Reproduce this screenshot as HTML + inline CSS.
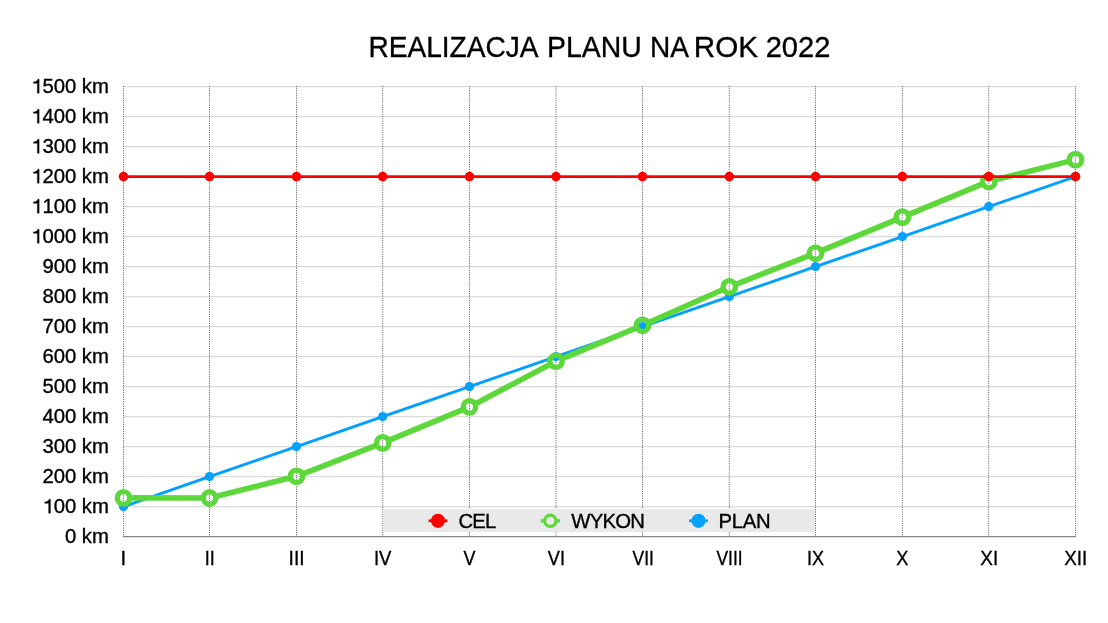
<!DOCTYPE html>
<html><head><meta charset="utf-8"><title>Realizacja planu</title>
<style>
html,body{margin:0;padding:0;background:#fff;width:1108px;height:623px;overflow:hidden}
svg{display:block;will-change:transform}
text{font-family:"Liberation Sans", sans-serif;fill:#000;stroke:#000;stroke-width:0.35px}
</style></head><body>
<svg width="1108" height="623" viewBox="0 0 1108 623">
<rect width="1108" height="623" fill="#fff"/>
<text x="368.40" y="57.4" font-size="30" textLength="170.16" lengthAdjust="spacingAndGlyphs">REALIZACJA</text>
<text x="547.07" y="57.4" font-size="30" textLength="94.72" lengthAdjust="spacingAndGlyphs">PLANU</text>
<text x="650.00" y="57.4" font-size="30" textLength="38.96" lengthAdjust="spacingAndGlyphs">NA</text>
<text x="693.87" y="57.4" font-size="30" textLength="64.27" lengthAdjust="spacingAndGlyphs">ROK</text>
<text x="765.64" y="57.4" font-size="30" textLength="64.73" lengthAdjust="spacingAndGlyphs">2022</text>
<line x1="123" y1="506.6" x2="1076" y2="506.6" stroke="#dadada" stroke-width="1.1"/>
<line x1="123" y1="476.6" x2="1076" y2="476.6" stroke="#dadada" stroke-width="1.1"/>
<line x1="123" y1="446.6" x2="1076" y2="446.6" stroke="#dadada" stroke-width="1.1"/>
<line x1="123" y1="416.6" x2="1076" y2="416.6" stroke="#dadada" stroke-width="1.1"/>
<line x1="123" y1="386.6" x2="1076" y2="386.6" stroke="#dadada" stroke-width="1.1"/>
<line x1="123" y1="356.6" x2="1076" y2="356.6" stroke="#dadada" stroke-width="1.1"/>
<line x1="123" y1="326.6" x2="1076" y2="326.6" stroke="#dadada" stroke-width="1.1"/>
<line x1="123" y1="296.6" x2="1076" y2="296.6" stroke="#dadada" stroke-width="1.1"/>
<line x1="123" y1="266.6" x2="1076" y2="266.6" stroke="#dadada" stroke-width="1.1"/>
<line x1="123" y1="236.6" x2="1076" y2="236.6" stroke="#dadada" stroke-width="1.1"/>
<line x1="123" y1="206.6" x2="1076" y2="206.6" stroke="#dadada" stroke-width="1.1"/>
<line x1="123" y1="176.6" x2="1076" y2="176.6" stroke="#dadada" stroke-width="1.1"/>
<line x1="123" y1="146.6" x2="1076" y2="146.6" stroke="#dadada" stroke-width="1.1"/>
<line x1="123" y1="116.6" x2="1076" y2="116.6" stroke="#dadada" stroke-width="1.1"/>
<line x1="123" y1="86.6" x2="1076" y2="86.6" stroke="#dadada" stroke-width="1.1"/>
<text x="108.9" y="543.2" font-size="20.3" text-anchor="end">0 km</text>
<text x="108.9" y="513.2" font-size="20.3" text-anchor="end"><tspan style="fill:none;stroke:none">1</tspan>00 km</text><path d="M48.64,513.20 L50.43,513.20 L50.43,499.15 L49.13,499.15 C48.72,500.41 47.41,501.73 44.73,501.91 L44.73,503.33 L48.64,503.33 Z" fill="#000" stroke="#000" stroke-width="0.35"/>
<text x="108.9" y="483.2" font-size="20.3" text-anchor="end">200 km</text>
<text x="108.9" y="453.2" font-size="20.3" text-anchor="end">300 km</text>
<text x="108.9" y="423.2" font-size="20.3" text-anchor="end">400 km</text>
<text x="108.9" y="393.2" font-size="20.3" text-anchor="end">500 km</text>
<text x="108.9" y="363.2" font-size="20.3" text-anchor="end">600 km</text>
<text x="108.9" y="333.2" font-size="20.3" text-anchor="end">700 km</text>
<text x="108.9" y="303.2" font-size="20.3" text-anchor="end">800 km</text>
<text x="108.9" y="273.2" font-size="20.3" text-anchor="end">900 km</text>
<text x="108.9" y="243.2" font-size="20.3" text-anchor="end"><tspan style="fill:none;stroke:none">1</tspan>000 km</text><path d="M37.35,243.20 L39.14,243.20 L39.14,229.15 L37.84,229.15 C37.43,230.41 36.12,231.73 33.44,231.91 L33.44,233.33 L37.35,233.33 Z" fill="#000" stroke="#000" stroke-width="0.35"/>
<text x="108.9" y="213.2" font-size="20.3" text-anchor="end"><tspan style="fill:none;stroke:none">1</tspan>100 km</text><path d="M37.35,213.20 L39.14,213.20 L39.14,199.15 L37.84,199.15 C37.43,200.41 36.12,201.73 33.44,201.91 L33.44,203.33 L37.35,203.33 Z" fill="#000" stroke="#000" stroke-width="0.35"/>
<text x="108.9" y="183.2" font-size="20.3" text-anchor="end"><tspan style="fill:none;stroke:none">1</tspan>200 km</text><path d="M37.35,183.20 L39.14,183.20 L39.14,169.15 L37.84,169.15 C37.43,170.41 36.12,171.73 33.44,171.91 L33.44,173.33 L37.35,173.33 Z" fill="#000" stroke="#000" stroke-width="0.35"/>
<text x="108.9" y="153.2" font-size="20.3" text-anchor="end"><tspan style="fill:none;stroke:none">1</tspan>300 km</text><path d="M37.35,153.20 L39.14,153.20 L39.14,139.15 L37.84,139.15 C37.43,140.41 36.12,141.73 33.44,141.91 L33.44,143.33 L37.35,143.33 Z" fill="#000" stroke="#000" stroke-width="0.35"/>
<text x="108.9" y="123.2" font-size="20.3" text-anchor="end"><tspan style="fill:none;stroke:none">1</tspan>400 km</text><path d="M37.35,123.20 L39.14,123.20 L39.14,109.15 L37.84,109.15 C37.43,110.41 36.12,111.73 33.44,111.91 L33.44,113.33 L37.35,113.33 Z" fill="#000" stroke="#000" stroke-width="0.35"/>
<text x="108.9" y="93.2" font-size="20.3" text-anchor="end"><tspan style="fill:none;stroke:none">1</tspan>500 km</text><path d="M37.35,93.20 L39.14,93.20 L39.14,79.15 L37.84,79.15 C37.43,80.41 36.12,81.73 33.44,81.91 L33.44,83.33 L37.35,83.33 Z" fill="#000" stroke="#000" stroke-width="0.35"/>
<line x1="123.50" y1="86" x2="123.50" y2="536" stroke="#646464" stroke-width="1" stroke-dasharray="1.1 1.2"/>
<line x1="209.50" y1="86" x2="209.50" y2="536" stroke="#646464" stroke-width="1" stroke-dasharray="1.1 1.2"/>
<line x1="296.50" y1="86" x2="296.50" y2="536" stroke="#646464" stroke-width="1" stroke-dasharray="1.1 1.2"/>
<line x1="382.70" y1="86" x2="382.70" y2="536" stroke="#646464" stroke-width="1" stroke-dasharray="1.1 1.2"/>
<line x1="469.50" y1="86" x2="469.50" y2="536" stroke="#646464" stroke-width="1" stroke-dasharray="1.1 1.2"/>
<line x1="556.00" y1="86" x2="556.00" y2="536" stroke="#646464" stroke-width="1" stroke-dasharray="1.1 1.2"/>
<line x1="642.50" y1="86" x2="642.50" y2="536" stroke="#646464" stroke-width="1" stroke-dasharray="1.1 1.2"/>
<line x1="729.30" y1="86" x2="729.30" y2="536" stroke="#646464" stroke-width="1" stroke-dasharray="1.1 1.2"/>
<line x1="815.50" y1="86" x2="815.50" y2="536" stroke="#646464" stroke-width="1" stroke-dasharray="1.1 1.2"/>
<line x1="902.40" y1="86" x2="902.40" y2="536" stroke="#646464" stroke-width="1" stroke-dasharray="1.1 1.2"/>
<line x1="988.70" y1="86" x2="988.70" y2="536" stroke="#646464" stroke-width="1" stroke-dasharray="1.1 1.2"/>
<line x1="1075.50" y1="86" x2="1075.50" y2="536" stroke="#646464" stroke-width="1" stroke-dasharray="1.1 1.2"/>
<line x1="123" y1="536.6" x2="1076" y2="536.6" stroke="#858585" stroke-width="1.2"/>
<text x="123.30" y="565.2" font-size="20.3" text-anchor="middle">I</text>
<text x="209.75" y="565.2" font-size="20.3" text-anchor="middle" textLength="10.03" lengthAdjust="spacingAndGlyphs">II</text>
<text x="296.60" y="565.2" font-size="20.3" text-anchor="middle" textLength="16.06" lengthAdjust="spacingAndGlyphs">III</text>
<text x="382.69" y="565.2" font-size="20.3" text-anchor="middle" textLength="17.49" lengthAdjust="spacingAndGlyphs">IV</text>
<text x="469.50" y="565.2" font-size="20.3" text-anchor="middle" textLength="11.96" lengthAdjust="spacingAndGlyphs">V</text>
<text x="556.40" y="565.2" font-size="20.3" text-anchor="middle" textLength="17.16" lengthAdjust="spacingAndGlyphs">VI</text>
<text x="643.26" y="565.2" font-size="20.3" text-anchor="middle" textLength="21.28" lengthAdjust="spacingAndGlyphs">VII</text>
<text x="729.56" y="565.2" font-size="20.3" text-anchor="middle" textLength="26.08" lengthAdjust="spacingAndGlyphs">VIII</text>
<text x="815.46" y="565.2" font-size="20.3" text-anchor="middle" textLength="17.04" lengthAdjust="spacingAndGlyphs">IX</text>
<text x="902.34" y="565.2" font-size="20.3" text-anchor="middle" textLength="12.09" lengthAdjust="spacingAndGlyphs">X</text>
<text x="989.21" y="565.2" font-size="20.3" text-anchor="middle" textLength="17.87" lengthAdjust="spacingAndGlyphs">XI</text>
<text x="1075.76" y="565.2" font-size="20.3" text-anchor="middle" textLength="22.95" lengthAdjust="spacingAndGlyphs">XII</text>
<rect x="383.5" y="509" width="431.5" height="23" fill="#e9e9e9"/>
<polyline points="123.50,506.60 209.50,476.60 296.50,446.60 382.70,416.60 469.50,386.60 556.00,356.60 642.50,326.60 729.30,296.60 815.50,266.60 902.40,236.60 988.70,206.60 1075.50,176.60" fill="none" stroke="#02a0ff" stroke-width="2.9" stroke-linejoin="round"/>
<circle cx="123.50" cy="506.60" r="4.6" fill="#02a0ff"/>
<circle cx="209.50" cy="476.60" r="4.6" fill="#02a0ff"/>
<circle cx="296.50" cy="446.60" r="4.6" fill="#02a0ff"/>
<circle cx="382.70" cy="416.60" r="4.6" fill="#02a0ff"/>
<circle cx="469.50" cy="386.60" r="4.6" fill="#02a0ff"/>
<circle cx="556.00" cy="356.60" r="4.6" fill="#02a0ff"/>
<circle cx="642.50" cy="326.60" r="4.6" fill="#02a0ff"/>
<circle cx="729.30" cy="296.60" r="4.6" fill="#02a0ff"/>
<circle cx="815.50" cy="266.60" r="4.6" fill="#02a0ff"/>
<circle cx="902.40" cy="236.60" r="4.6" fill="#02a0ff"/>
<circle cx="988.70" cy="206.60" r="4.6" fill="#02a0ff"/>
<circle cx="1075.50" cy="176.60" r="4.6" fill="#02a0ff"/>
<mask id="wm" maskUnits="userSpaceOnUse" x="0" y="0" width="1108" height="623"><rect width="1108" height="623" fill="#fff"/><circle cx="123.50" cy="497.90" r="3.7" fill="#000"/><circle cx="209.50" cy="498.00" r="3.7" fill="#000"/><circle cx="296.50" cy="476.30" r="3.7" fill="#000"/><circle cx="382.70" cy="442.90" r="3.7" fill="#000"/><circle cx="469.50" cy="406.90" r="3.7" fill="#000"/><circle cx="556.00" cy="361.20" r="3.7" fill="#000"/><circle cx="642.50" cy="325.30" r="3.7" fill="#000"/><circle cx="729.30" cy="286.80" r="3.7" fill="#000"/><circle cx="815.50" cy="253.20" r="3.7" fill="#000"/><circle cx="902.40" cy="217.10" r="3.7" fill="#000"/><circle cx="988.70" cy="181.40" r="3.7" fill="#000"/><circle cx="1075.50" cy="159.65" r="3.7" fill="#000"/></mask>
<polyline points="123.50,497.90 209.50,498.00 296.50,476.30 382.70,442.90 469.50,406.90 556.00,361.20 642.50,325.30 729.30,286.80 815.50,253.20 902.40,217.10 988.70,181.40 1075.50,159.65" fill="none" stroke="#5dd83a" stroke-width="5.6" stroke-linejoin="round" mask="url(#wm)"/>
<circle cx="123.50" cy="497.90" r="6.25" fill="none" stroke="#5dd83a" stroke-width="5.3"/>
<circle cx="209.50" cy="498.00" r="6.25" fill="none" stroke="#5dd83a" stroke-width="5.3"/>
<circle cx="296.50" cy="476.30" r="6.25" fill="none" stroke="#5dd83a" stroke-width="5.3"/>
<circle cx="382.70" cy="442.90" r="6.25" fill="none" stroke="#5dd83a" stroke-width="5.3"/>
<circle cx="469.50" cy="406.90" r="6.25" fill="none" stroke="#5dd83a" stroke-width="5.3"/>
<circle cx="556.00" cy="361.20" r="6.25" fill="none" stroke="#5dd83a" stroke-width="5.3"/>
<circle cx="642.50" cy="325.30" r="6.25" fill="none" stroke="#5dd83a" stroke-width="5.3"/>
<circle cx="729.30" cy="286.80" r="6.25" fill="none" stroke="#5dd83a" stroke-width="5.3"/>
<circle cx="815.50" cy="253.20" r="6.25" fill="none" stroke="#5dd83a" stroke-width="5.3"/>
<circle cx="902.40" cy="217.10" r="6.25" fill="none" stroke="#5dd83a" stroke-width="5.3"/>
<circle cx="988.70" cy="181.40" r="6.25" fill="none" stroke="#5dd83a" stroke-width="5.3"/>
<circle cx="1075.50" cy="159.65" r="6.25" fill="none" stroke="#5dd83a" stroke-width="5.3"/>
<line x1="123.50" y1="176.60000000000002" x2="1075.50" y2="176.60000000000002" stroke="#ff0000" stroke-width="2.9"/>
<circle cx="123.50" cy="176.60" r="4.8" fill="#ff0000"/>
<circle cx="209.50" cy="176.60" r="4.8" fill="#ff0000"/>
<circle cx="296.50" cy="176.60" r="4.8" fill="#ff0000"/>
<circle cx="382.70" cy="176.60" r="4.8" fill="#ff0000"/>
<circle cx="469.50" cy="176.60" r="4.8" fill="#ff0000"/>
<circle cx="556.00" cy="176.60" r="4.8" fill="#ff0000"/>
<circle cx="642.50" cy="176.60" r="4.8" fill="#ff0000"/>
<circle cx="729.30" cy="176.60" r="4.8" fill="#ff0000"/>
<circle cx="815.50" cy="176.60" r="4.8" fill="#ff0000"/>
<circle cx="902.40" cy="176.60" r="4.8" fill="#ff0000"/>
<circle cx="988.70" cy="176.60" r="4.8" fill="#ff0000"/>
<circle cx="1075.50" cy="176.60" r="4.8" fill="#ff0000"/>
<line x1="428.6" y1="520.8" x2="447.4" y2="520.8" stroke="#ff0000" stroke-width="2.8"/><circle cx="438.0" cy="520.8" r="7.1" fill="#ff0000"/>
<text x="458.57" y="528.0" font-size="20.3" textLength="37.6" lengthAdjust="spacing">CEL</text>
<line x1="540.7" y1="520.8" x2="559.9" y2="520.8" stroke="#5dd83a" stroke-width="3.3"/><circle cx="550.3" cy="520.8" r="5.6" fill="#e9e9e9" stroke="#5dd83a" stroke-width="3.2"/>
<text x="571.31" y="528.0" font-size="20.3" textLength="73.55" lengthAdjust="spacing">WYKON</text>
<line x1="689.1" y1="520.8" x2="707.9" y2="520.8" stroke="#02a0ff" stroke-width="2.8"/><circle cx="698.5" cy="520.8" r="7.1" fill="#02a0ff"/>
<text x="718.53" y="528.0" font-size="20.3" textLength="52.03" lengthAdjust="spacing">PLAN</text>
</svg>
</body></html>
